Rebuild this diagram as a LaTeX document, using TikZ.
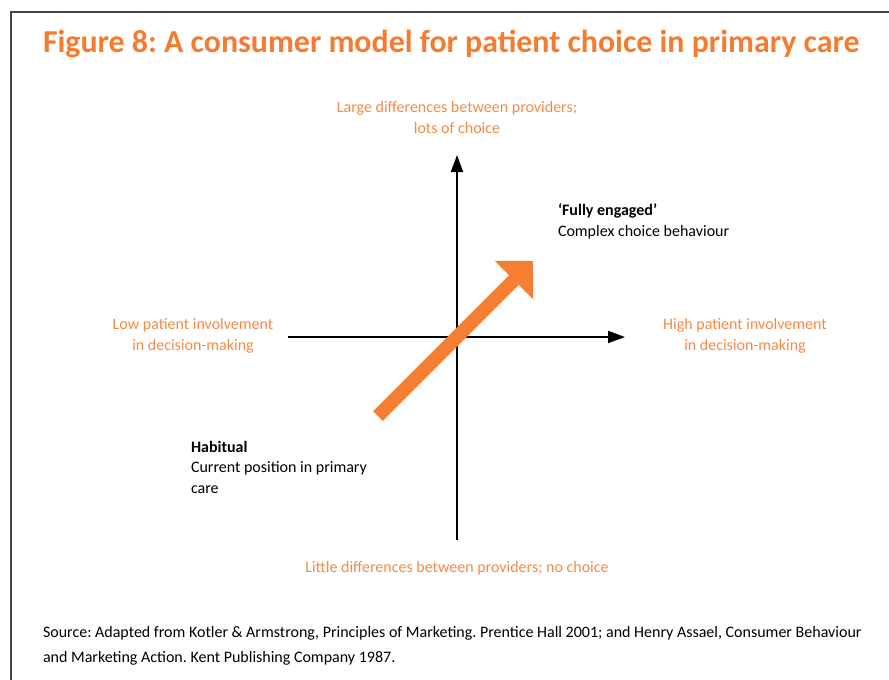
\documentclass[tikz,border=0pt]{standalone}
\usepackage{fontspec}
\setmainfont{Carlito}
\usetikzlibrary{arrows.meta}
\definecolor{titleorange}{HTML}{F47B2F}
\definecolor{labelorange}{HTML}{F48A45}
\definecolor{arroworange}{HTML}{F47F32}
\definecolor{framegray}{HTML}{454545}
\frenchspacing
\begin{document}
\begin{tikzpicture}[x=1pt,y=-1pt,
  every node/.style={inner sep=0pt, outer sep=0pt},
  body/.style={font=\fontsize{16}{20.5}\selectfont, text=black},
  axislabel/.style={font=\fontsize{16}{20.5}\selectfont, text=labelorange, align=center},
  axis/.style={line width=2pt, -{Triangle[length=17pt,width=12pt]}},
  bigarrow/.style={draw=arroworange, line width=13.5pt, -{Triangle[length=27pt,width=53pt]}}]
  \useasboundingbox (0,0) rectangle (889,680);
  % page frame, running off the right and bottom edges
  \draw[framegray, line width=1.3pt] (11,712) -- (11,12) -- (920,12);

  % title
  \node[anchor=base west, font=\fontsize{31.9}{38}\bfseries, text=titleorange] (title) at (43,52)
    {Figure 8: A consumer model for patient choice in primary care};

  % axes
  \coordinate (vbot) at (457,540);
  \coordinate (vtop) at (457,155);
  \coordinate (hleft) at (288,337);
  \coordinate (hright) at (625,337);
  \draw[axis] (vbot) -- (vtop);
  \draw[axis] (hleft) -- (hright);

  % axis end labels (base anchor sits on the last line)
  \node[axislabel, anchor=base] (large) at (457,133) {Large differences between providers;\\lots of choice};
  \node[axislabel, anchor=base] (little) at (457,572) {Little differences between providers; no choice};
  \node[axislabel, anchor=base] (low) at (193,350) {Low patient involvement\\in decision-making};
  \node[axislabel, anchor=base] (high) at (745,350) {High patient involvement\\in decision-making};

  % movement from habitual to fully engaged
  \coordinate (habitpt) at (378,416);
  \coordinate (engagedpt) at (533,261);
  \draw[bigarrow] (habitpt) -- (engagedpt);

  % quadrant descriptions
  \node[body, anchor=base west, align=left] (engaged) at (558,236)
    {\textbf{‘Fully engaged’}\\Complex choice behaviour};
  \node[body, anchor=base west, align=left] (habitual) at (191,493)
    {\textbf{Habitual}\\Current position in primary\\care};

  % source note
  \node[anchor=base west, align=left, font=\fontsize{16}{24.5}\selectfont] (source) at (43,662)
    {Source: Adapted from Kotler \& Armstrong, Principles of Marketing. Prentice Hall 2001; and Henry Assael, Consumer Behaviour\\and Marketing Action. Kent Publishing Company 1987.};
\end{tikzpicture}
\end{document}
